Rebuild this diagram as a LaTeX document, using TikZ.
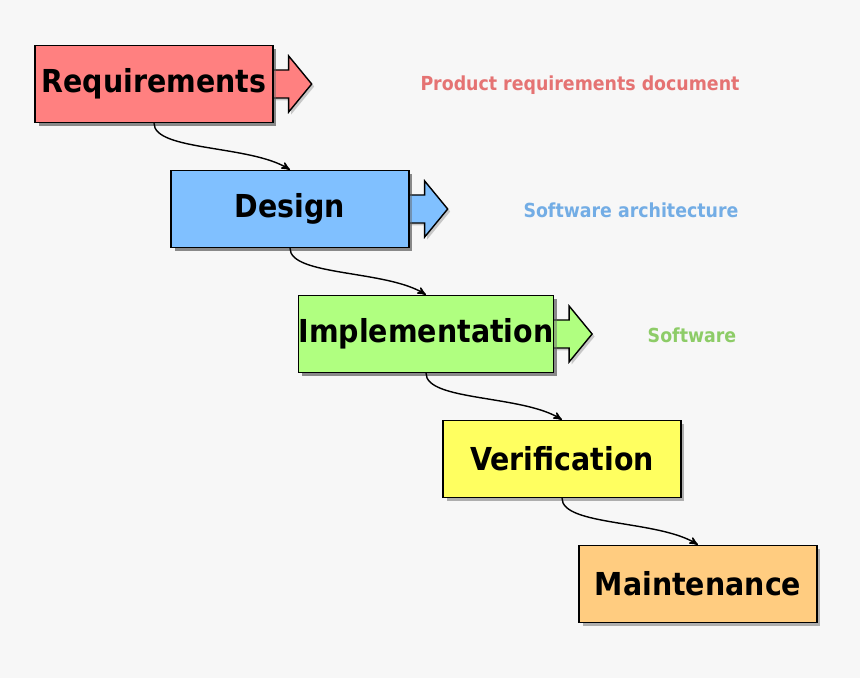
\documentclass[tikz,border=0pt]{standalone}
\usepackage{fontspec}
\setmainfont{DejaVu Sans Condensed}[BoldFont={DejaVu Sans Condensed Bold}]
\usetikzlibrary{arrows,calc,positioning,shadows}
\tikzset{
    >=stealth',
    x=0.02cm, y=-0.02cm,
    stage/.style={
           rectangle,
           draw=black, thick,
           minimum width=4.76cm,
           minimum height=1.54cm,
           inner sep=0pt,
           drop shadow={shadow xshift=0.07cm, shadow yshift=-0.07cm, fill=black!60},
           font=\fontsize{18pt}{20pt}\selectfont\bfseries,
           text centered},
    result/.style={
           font=\fontsize{11pt}{13pt}\selectfont\bfseries},
    pil/.style={
           ->,
           thick}
}
\definecolor{creq}{HTML}{FF8080}
\definecolor{cdes}{HTML}{80C0FF}
\definecolor{cimp}{HTML}{B0FF80}
\definecolor{cver}{HTML}{FFFF60}
\definecolor{cmnt}{HTML}{FFCC80}
\newcommand{\blockarrow}[2]{%
  \draw[thick, fill=#2, drop shadow={shadow xshift=0.05cm, shadow yshift=-0.05cm, fill=black!40}]
    ($(#1.east)+(-2,-14)$) -- ++(17,0) -- ++(0,-14) -- ++(23,28) -- ++(-23,28)
    -- ++(0,-14) -- ++(-17,0) -- cycle;}
\begin{document}
\begin{tikzpicture}
          \fill[black!3] (0,0) rectangle (860,678);
          \useasboundingbox (0,0) rectangle (860,678);
          \node[stage, fill=creq](req) at (154,84) {Requirements};
          \node[stage, fill=cdes](des) at (290,209) {Design};
          \node[stage, fill=cimp](imp) at (426,334) {Implementation};
          \node[stage, fill=cver](ver) at (562,459) {Verification};
          \node[stage, fill=cmnt](mnt) at (698,584) {Maintenance};
          \blockarrow{req}{creq}
          \blockarrow{des}{cdes}
          \blockarrow{imp}{cimp}
          \node[stage, fill=creq](req) at (154,84) {Requirements};
          \node[stage, fill=cdes](des) at (290,209) {Design};
          \node[stage, fill=cimp](imp) at (426,334) {Implementation};
          \node[result, text=creq!90!black](prd) at (580,85) {Product requirements document};
          \node[result, text=cdes!90!black](arch) at (631,210) {Software architecture};
          \node[result, text=cimp!80!black](sw) at (692,335) {Software};
          \draw[pil] (req.south) .. controls +(0,28) and +(-40,-25) .. (des.north);
          \draw[pil] (des.south) .. controls +(0,28) and +(-40,-25) .. (imp.north);
          \draw[pil] (imp.south) .. controls +(0,28) and +(-40,-25) .. (ver.north);
          \draw[pil] (ver.south) .. controls +(0,28) and +(-40,-25) .. (mnt.north);
\end{tikzpicture}
\end{document}
